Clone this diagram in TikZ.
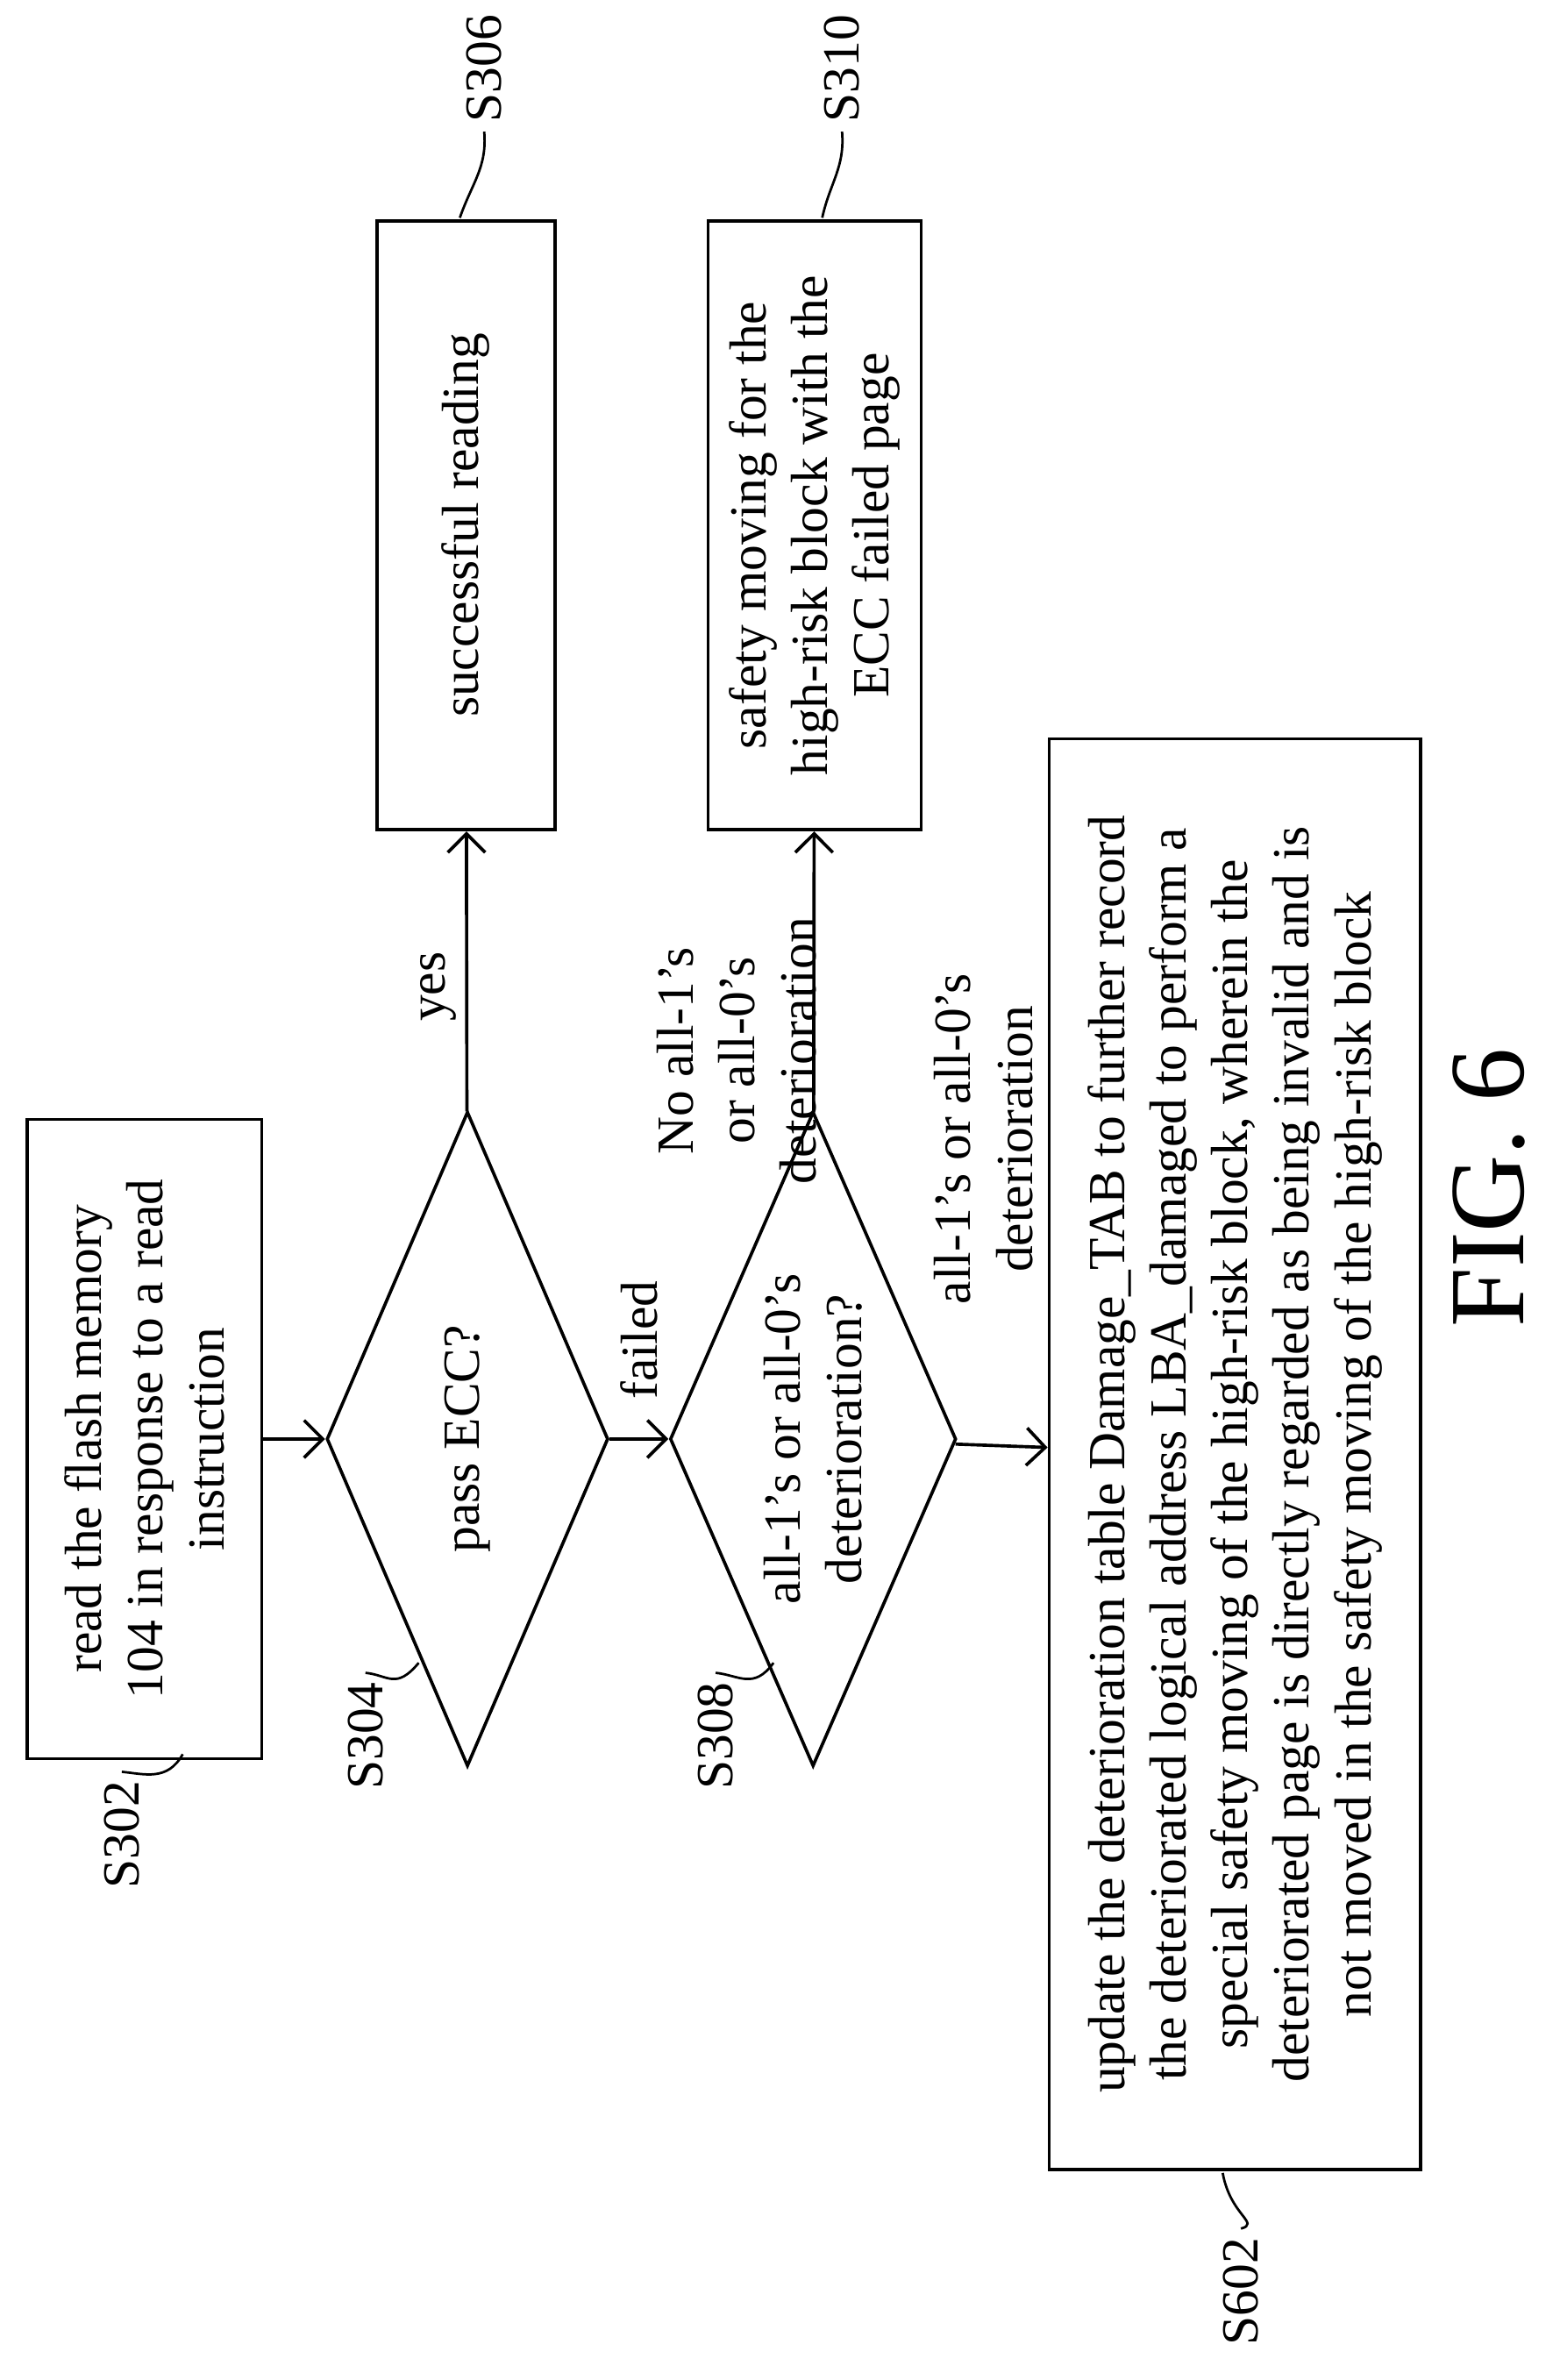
\documentclass[tikz,border=0pt]{standalone}
\usepackage{fontspec}
\setmainfont{Liberation Serif}
\usetikzlibrary{shapes.geometric,arrows.meta}
\tikzset{
  every node/.style={font=\fontsize{19.5}{23}\selectfont, rotate=90, align=center},
  stepbox/.style={draw, line width=1.2pt, inner sep=4pt},
  test/.style={draw, diamond, line width=1.2pt, inner sep=0pt},
  flow/.style={line width=1.2pt, -{Straight Barb[length=7pt]}},
  tag/.style={line width=0.9pt}
}
\begin{document}
\begin{tikzpicture}[x=0.02cm, y=-0.02cm]
\useasboundingbox (0,0) rectangle (1024,1563);
\node[stepbox, minimum width=8.4cm, minimum height=3.08cm] (s302) at (95,945)
  {read the flash memory\\104 in response to a read\\instruction};
\node[test, minimum width=8.6cm, minimum height=3.7cm] (s304) at (307,945) {};
\node (q304) at (307,945) {pass ECC?};
\node[stepbox, minimum width=8cm, minimum height=2.34cm] (s306) at (306,345) {successful reading};
\node[test, minimum width=8.6cm, minimum height=3.76cm] (s308) at (534,945) {};
\node (q308) at (534,945) {all-1's or all-0's\\deterioration?};
\node[stepbox, minimum width=8cm, minimum height=2.8cm] (s310) at (535,345)
  {safety moving for the\\high-risk block with the\\ECC failed page};
\node[stepbox, minimum width=18.8cm, minimum height=4.88cm] (s602) at (811,955)
  {update the deterioration table Damage\_TAB to further record\\
   the deteriorated logical address LBA\_damaged to perform a\\
   special safety moving of the high-risk block, wherein the\\
   deteriorated page is directly regarded as being invalid and is\\
   not moved in the safety moving of the high-risk block};
% connectors
\draw[flow] (s302) -- (s304);
\draw[flow] (s304) -- (s306);
\draw[flow] (s304) -- (s308);
\draw[flow] (s308) -- (s310);
\draw[flow] (s308) -- (s602);
% connector labels
\node (yes) at (288,648) {yes};
\node (failed) at (420,880) {failed};
\node (nodet) at (484,690) {No all-1's\\or all-0's\\deterioration};
\node (det) at (646,748) {all-1's or all-0's\\deterioration};
% step tags
\node (t302) at (80,1205) {S302};
\node (t304) at (240,1140) {S304};
\node (t306) at (318,45) {S306};
\node (t308) at (470,1140) {S308};
\node (t310) at (553,45) {S310};
\node (t602) at (815,1505) {S602};
\draw[tag] (t302.east) .. controls (95,1165) and (110,1170) .. (120,1152);
\draw[tag] (t304.east) .. controls (255,1100) and (260,1110) .. (275,1092);
\draw[tag] (t306.west) .. controls (320,110) and (310,120) .. (302,143);
\draw[tag] (t308.east) .. controls (485,1100) and (495,1110) .. (508,1092);
\draw[tag] (t310.west) .. controls (555,110) and (545,120) .. (540,143);
\draw[tag] (t602.east) .. controls (828,1460) and (808,1455) .. (803,1427);
\node[font=\fontsize{40}{44}\selectfont] (fig) at (978,780) {FIG. 6};
\end{tikzpicture}
\end{document}
